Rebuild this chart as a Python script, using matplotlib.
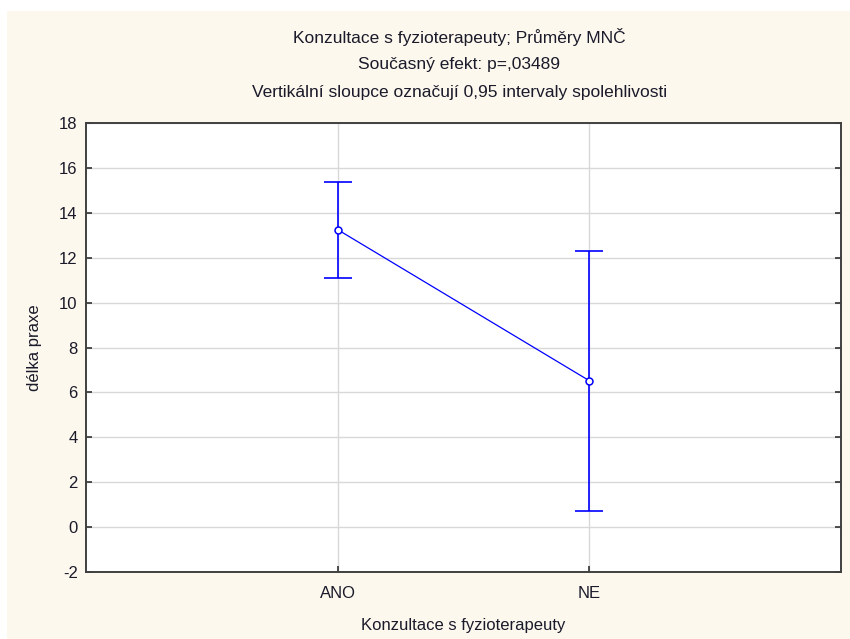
import matplotlib
matplotlib.use("Agg")
import matplotlib.pyplot as plt
from matplotlib.patches import Rectangle

categories = ["ANO", "NE"]
means = [13.25, 6.52]
ci_low = [11.1, 0.73]
ci_high = [15.35, 12.3]
yticks = [-2, 0, 2, 4, 6, 8, 10, 12, 14, 16, 18]
title_lines = ["Konzultace s fyzioterapeuty; Průměry MNČ",
               "Současný efekt: p=,03489",
               "Vertikální sloupce označují 0,95 intervaly spolehlivosti"]
xlabel = "Konzultace s fyzioterapeuty"
ylabel = "délka praxe"

plt.rcParams['font.family'] = ['Liberation Sans', 'DejaVu Sans']

W, H = 850, 639
fig = plt.figure(figsize=(W / 100, H / 100), dpi=100)
fig.patch.set_facecolor('white')
bg = Rectangle((7 / W, 0), 1 - 7 / W, 1 - 11 / H, transform=fig.transFigure,
               facecolor='#FDF8EE', edgecolor='none', zorder=-10)
fig.patches.append(bg)

L, R, T, B = 86, 841, 123, 572
ax = fig.add_axes([L / W, 1 - B / H, (R - L) / W, (B - T) / H])
ax.set_facecolor('white')

x = list(range(len(categories)))
yerr = [[m - lo for m, lo in zip(means, ci_low)],
        [hi - m for m, hi in zip(means, ci_high)]]
ax.errorbar(x, means, yerr=yerr, fmt='none', ecolor='#0000FF', elinewidth=1.2,
            capsize=10, capthick=1.2, zorder=3)
ax.plot(x, means, color='#0000FF', lw=0.9, marker='o', markersize=5,
        markerfacecolor='white', markeredgecolor='#0000FF', markeredgewidth=1.1, zorder=4)

ax.set_xlim(-1, 2)
ax.set_ylim(-2, 18)
ax.set_yticks(yticks)
ax.set_yticklabels([str(t) for t in yticks])
ax.set_xticks(x)
ax.set_xticklabels(categories)
ax.grid(True, color='#D8D8D8', lw=1.0, zorder=0)
ax.set_axisbelow(True)
for s in ax.spines.values():
    s.set_color('#404040')
    s.set_linewidth(1.4)
fs = 12
ax.tick_params(direction='in', length=4, width=1.2, color='#303030',
               labelsize=fs, labelcolor='#1a1a2a', right=True, top=False, pad=6)
ax.tick_params(axis='x', pad=10)

ax.set_xlabel(xlabel, fontsize=fs, color='#1a1a2a', labelpad=12)
ax.set_ylabel(ylabel, fontsize=fs, color='#1a1a2a', labelpad=12)

cx = (L + R) / 2 / W - 0.005
for i, (line, yp) in enumerate(zip(title_lines, [37, 64, 92])):
    fig.text(cx, 1 - yp / H, line, ha='center', va='center', fontsize=fs + 0.5, color='#1a1a2a')

fig.savefig('out.png', dpi=100)
